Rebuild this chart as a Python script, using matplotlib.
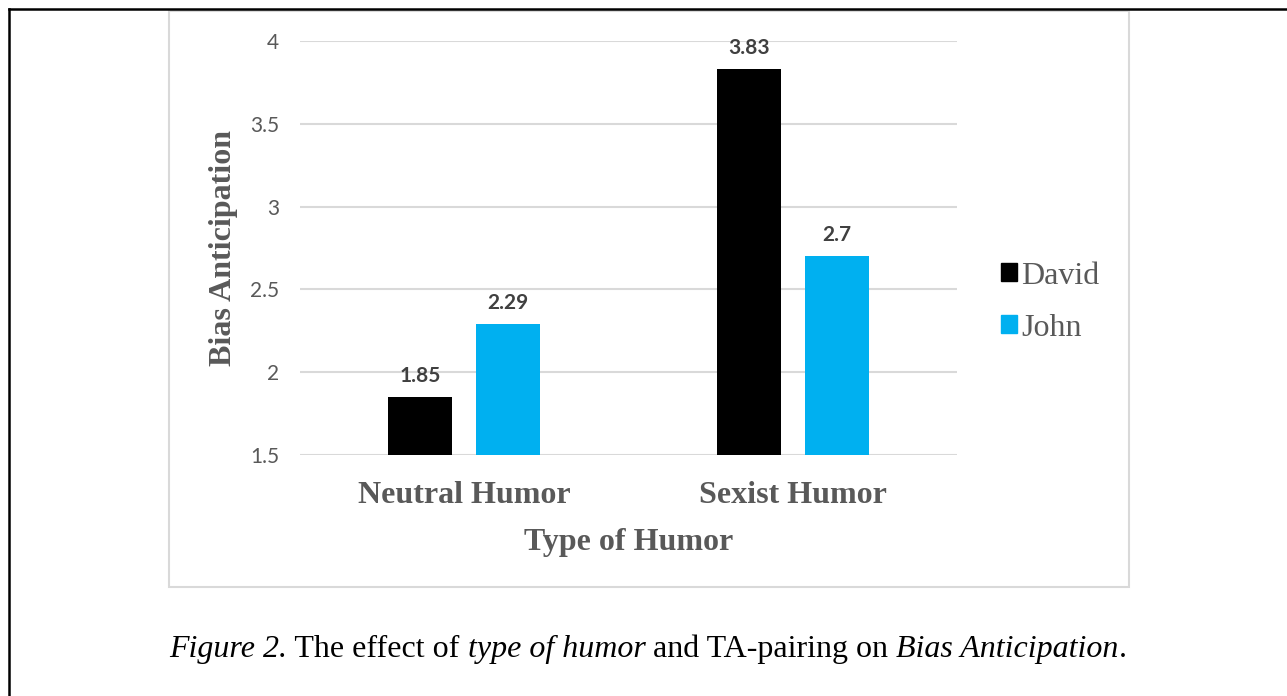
import matplotlib
matplotlib.use("Agg")
import matplotlib.pyplot as plt
import numpy as np
from matplotlib.patches import Rectangle, Patch
from matplotlib.lines import Line2D

# data
categories = ["Neutral Humor", "Sexist Humor"]
series = ["David", "John"]
david = [1.85, 3.83]
john = [2.29, 2.7]
yticks = [1.5, 2, 2.5, 3, 3.5, 4]

colors = {"David": "#000000", "John": "#00B0F0"}
W, H = 1287, 696
gray_txt = "#595959"
serif = ["Liberation Serif", "DejaVu Serif"]
sans = ["Lato", "DejaVu Sans"]

fig = plt.figure(figsize=(W / 100, H / 100), dpi=100)

def fx(px):
    return px / W

def fy(py):
    return 1 - py / H

# outer frame (top and left only) and chart area box
fig.add_artist(Line2D([fx(9), 1], [fy(9), fy(9)], transform=fig.transFigure, color="black", lw=1.8))
fig.add_artist(Line2D([fx(9), fx(9)], [fy(9), 0], transform=fig.transFigure, color="black", lw=1.8))
fig.add_artist(Rectangle((fx(169), fy(587)), fx(1129) - fx(169), fy(11) - fy(587),
                         transform=fig.transFigure, fill=False, edgecolor="#d9d9d9", lw=1.5))

ax = fig.add_axes([fx(300), fy(455), fx(957) - fx(300), fy(41) - fy(455)])

x = np.arange(len(categories))
bw = 0.195
off = 0.134
b1 = ax.bar(x - off, david, bw, color=colors["David"], zorder=3)
b2 = ax.bar(x + off, john, bw, color=colors["John"], zorder=3)

for bars, vals in [(b1, david), (b2, john)]:
    for rect, v in zip(bars, vals):
        ax.annotate(f"{v:g}", (rect.get_x() + rect.get_width() / 2, v),
                    xytext=(0, 8), textcoords="offset points", ha="center", va="bottom",
                    fontsize=15, fontweight="bold", color="#404040", family=sans)

ax.set_xlim(-0.5, 1.5)
ax.set_ylim(1.5, 4)
ax.set_yticks(yticks)
ax.set_yticklabels([f"{t:g}" for t in yticks], fontsize=15, color=gray_txt, family=sans)
ax.set_xticks(x)
ax.set_xticklabels(categories, fontsize=23, fontweight="bold", color=gray_txt, family=serif)
ax.tick_params(axis="y", length=0, pad=15)
ax.tick_params(axis="x", length=0, pad=19)
ax.grid(axis="y", color="#d9d9d9", lw=1.5, zorder=0)
for s in ax.spines.values():
    s.set_visible(False)

ax.set_xlabel("Type of Humor", fontsize=23, fontweight="bold", color=gray_txt, family=serif, labelpad=13)
ax.set_ylabel("Bias Anticipation", fontsize=23, fontweight="bold", color=gray_txt, family=serif, labelpad=9)

handles = [Patch(color=colors[s]) for s in series]
fig.legend(handles, series, loc="center left", bbox_to_anchor=(fx(972), fy(302)),
           frameon=False, handlelength=0.5, handleheight=0.5, handletextpad=0.15,
           labelspacing=0.72, prop={"family": serif, "size": 23}, labelcolor=gray_txt)

# caption with mixed italic / upright pieces
pieces = [("Figure 2.", "italic"), (" The effect of ", "normal"), ("type of humor", "italic"),
          (" and TA-pairing on ", "normal"), ("Bias Anticipation", "italic"), (".", "normal")]
renderer = fig.canvas.get_renderer()
texts = []
total = 0
for s, st in pieces:
    t = fig.text(0, fy(657), s, fontsize=23, style=st, family=serif, color="black", va="baseline")
    w = t.get_window_extent(renderer).width
    texts.append((t, w))
    total += w
cur = 648 - total / 2
for t, w in texts:
    t.set_x(fx(cur))
    cur += w

fig.savefig("out.png", dpi=100)
